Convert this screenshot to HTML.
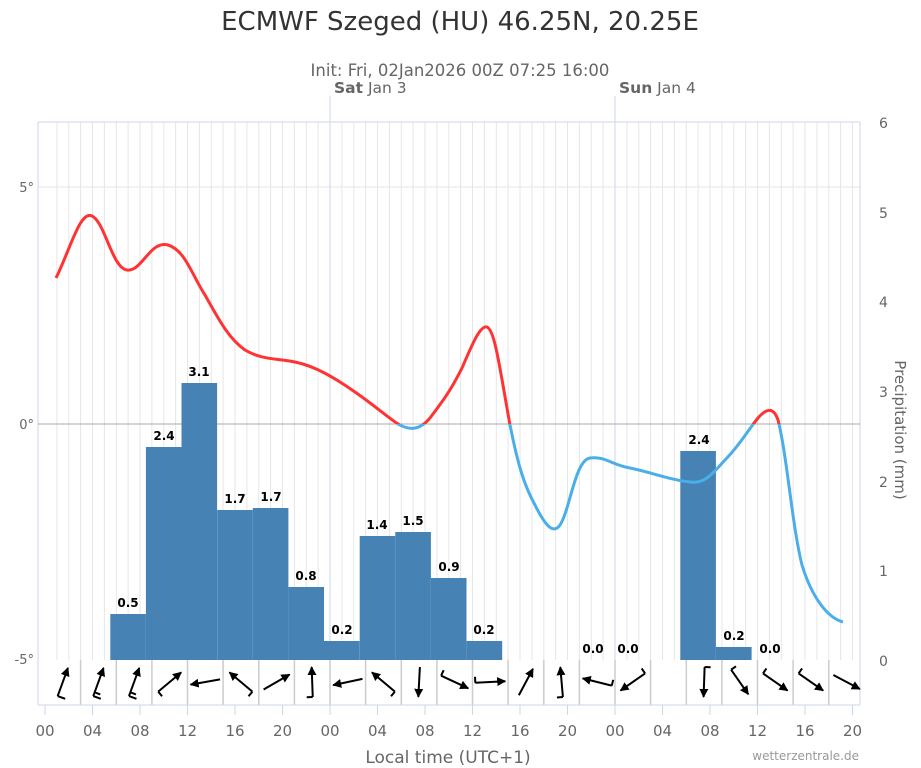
<!DOCTYPE html>
<html><head><meta charset="utf-8"><style>
body{margin:0;background:#fff;}
svg{display:block;font-family:"DejaVu Sans","Liberation Sans",sans-serif;}
</style></head><body>
<svg width="921" height="768" viewBox="0 0 921 768" xmlns="http://www.w3.org/2000/svg">
<defs>
<marker id="ah" viewBox="0 0 10 10" refX="9" refY="5" markerWidth="4.5" markerHeight="4.5" orient="auto"><path d="M0,0 L10,5 L0,10 z" fill="#000"/></marker>
<clipPath id="above"><rect x="0" y="0" width="921" height="424"/></clipPath>
<clipPath id="below"><rect x="0" y="424" width="921" height="400"/></clipPath>
</defs>
<text x="460" y="30" text-anchor="middle" font-size="26" fill="#333">ECMWF Szeged (HU) 46.25N, 20.25E</text>
<text x="460" y="76" text-anchor="middle" font-size="16.5" fill="#666">Init: Fri, 02Jan2026 00Z 07:25 16:00</text>
<g stroke="#e6e6e6" stroke-width="1">
<line x1="56.9" y1="122" x2="56.9" y2="660"/><line x1="68.8" y1="122" x2="68.8" y2="660"/><line x1="80.6" y1="122" x2="80.6" y2="660"/><line x1="92.5" y1="122" x2="92.5" y2="660"/><line x1="104.4" y1="122" x2="104.4" y2="660"/><line x1="116.3" y1="122" x2="116.3" y2="660"/><line x1="128.1" y1="122" x2="128.1" y2="660"/><line x1="140" y1="122" x2="140" y2="660"/><line x1="151.9" y1="122" x2="151.9" y2="660"/><line x1="163.8" y1="122" x2="163.8" y2="660"/><line x1="175.6" y1="122" x2="175.6" y2="660"/><line x1="187.5" y1="122" x2="187.5" y2="660"/><line x1="199.4" y1="122" x2="199.4" y2="660"/><line x1="211.3" y1="122" x2="211.3" y2="660"/><line x1="223.1" y1="122" x2="223.1" y2="660"/><line x1="235" y1="122" x2="235" y2="660"/><line x1="246.9" y1="122" x2="246.9" y2="660"/><line x1="258.8" y1="122" x2="258.8" y2="660"/><line x1="270.6" y1="122" x2="270.6" y2="660"/><line x1="282.5" y1="122" x2="282.5" y2="660"/><line x1="294.4" y1="122" x2="294.4" y2="660"/><line x1="306.3" y1="122" x2="306.3" y2="660"/><line x1="318.1" y1="122" x2="318.1" y2="660"/><line x1="341.9" y1="122" x2="341.9" y2="660"/><line x1="353.8" y1="122" x2="353.8" y2="660"/><line x1="365.6" y1="122" x2="365.6" y2="660"/><line x1="377.5" y1="122" x2="377.5" y2="660"/><line x1="389.4" y1="122" x2="389.4" y2="660"/><line x1="401.3" y1="122" x2="401.3" y2="660"/><line x1="413.1" y1="122" x2="413.1" y2="660"/><line x1="425" y1="122" x2="425" y2="660"/><line x1="436.9" y1="122" x2="436.9" y2="660"/><line x1="448.8" y1="122" x2="448.8" y2="660"/><line x1="460.6" y1="122" x2="460.6" y2="660"/><line x1="472.5" y1="122" x2="472.5" y2="660"/><line x1="484.4" y1="122" x2="484.4" y2="660"/><line x1="496.3" y1="122" x2="496.3" y2="660"/><line x1="508.1" y1="122" x2="508.1" y2="660"/><line x1="520" y1="122" x2="520" y2="660"/><line x1="531.9" y1="122" x2="531.9" y2="660"/><line x1="543.8" y1="122" x2="543.8" y2="660"/><line x1="555.6" y1="122" x2="555.6" y2="660"/><line x1="567.5" y1="122" x2="567.5" y2="660"/><line x1="579.4" y1="122" x2="579.4" y2="660"/><line x1="591.3" y1="122" x2="591.3" y2="660"/><line x1="603.1" y1="122" x2="603.1" y2="660"/><line x1="626.9" y1="122" x2="626.9" y2="660"/><line x1="638.8" y1="122" x2="638.8" y2="660"/><line x1="650.6" y1="122" x2="650.6" y2="660"/><line x1="662.5" y1="122" x2="662.5" y2="660"/><line x1="674.4" y1="122" x2="674.4" y2="660"/><line x1="686.3" y1="122" x2="686.3" y2="660"/><line x1="698.1" y1="122" x2="698.1" y2="660"/><line x1="710" y1="122" x2="710" y2="660"/><line x1="721.9" y1="122" x2="721.9" y2="660"/><line x1="733.8" y1="122" x2="733.8" y2="660"/><line x1="745.6" y1="122" x2="745.6" y2="660"/><line x1="757.5" y1="122" x2="757.5" y2="660"/><line x1="769.4" y1="122" x2="769.4" y2="660"/><line x1="781.3" y1="122" x2="781.3" y2="660"/><line x1="793.1" y1="122" x2="793.1" y2="660"/><line x1="805" y1="122" x2="805" y2="660"/><line x1="816.9" y1="122" x2="816.9" y2="660"/><line x1="828.8" y1="122" x2="828.8" y2="660"/><line x1="840.6" y1="122" x2="840.6" y2="660"/><line x1="852.5" y1="122" x2="852.5" y2="660"/>
<line x1="38" y1="187" x2="860" y2="187"/>
</g>
<line x1="38" y1="122" x2="38" y2="705" stroke="#ccd6eb"/>
<line x1="860" y1="122" x2="860" y2="705" stroke="#ccd6eb"/>
<line x1="38" y1="122" x2="860" y2="122" stroke="#ccd6eb"/>
<line x1="330" y1="96" x2="330" y2="660" stroke="#ccd6eb"/>
<line x1="615" y1="96" x2="615" y2="660" stroke="#ccd6eb"/>
<text x="334" y="93" font-size="15.5" fill="#666"><tspan font-weight="bold">Sat</tspan> Jan 3</text>
<text x="619" y="93" font-size="15.5" fill="#666"><tspan font-weight="bold">Sun</tspan> Jan 4</text>
<line x1="38" y1="424" x2="860" y2="424" stroke="#aaa"/>
<g fill="#4682b4">
<rect x="110.3" y="614" width="35.6" height="46"/>
<rect x="145.9" y="447" width="35.6" height="213"/>
<rect x="181.5" y="383" width="35.6" height="277"/>
<rect x="217.2" y="510" width="35.6" height="150"/>
<rect x="252.8" y="508" width="35.6" height="152"/>
<rect x="288.4" y="587" width="35.6" height="73"/>
<rect x="324" y="641" width="35.6" height="19"/>
<rect x="359.7" y="536" width="35.6" height="124"/>
<rect x="395.3" y="532" width="35.6" height="128"/>
<rect x="430.9" y="578" width="35.6" height="82"/>
<rect x="466.6" y="641" width="35.6" height="19"/>
<rect x="680.3" y="451" width="35.6" height="209"/>
<rect x="716" y="647" width="35.6" height="13"/>
</g>
<g font-size="12" font-weight="bold" text-anchor="middle" fill="#000">
<text x="128" y="607">0.5</text><text x="164" y="440">2.4</text><text x="199" y="376">3.1</text>
<text x="235" y="503">1.7</text><text x="271" y="501">1.7</text><text x="306" y="580">0.8</text>
<text x="342" y="634">0.2</text><text x="377" y="529">1.4</text><text x="413" y="525">1.5</text>
<text x="449" y="571">0.9</text><text x="484" y="634">0.2</text><text x="593" y="653">0.0</text>
<text x="628" y="653">0.0</text><text x="699" y="444">2.4</text><text x="734" y="640">0.2</text>
<text x="770" y="653">0.0</text>
</g>
<path id="tp" d="M56,278 C70,250 80,210 92,216 C105,222 112,268 127,270 C142,272 150,240 168,245 C185,250 192,275 205,295 C218,318 228,338 245,350 C262,360 275,358 295,362 C315,366 335,378 355,392 C375,406 385,415 398,424 C410,431 420,430 430,418 C442,402 450,392 462,368 C472,345 480,325 487,327 C495,330 500,370 510,425 C518,465 524,485 535,505 C545,525 553,535 560,525 C570,510 575,460 590,458 C605,456 612,465 630,468 C650,472 670,480 690,482 C705,484 712,474 725,460 C740,445 748,430 758,418 C765,410 773,405 778,420 C787,455 792,525 802,565 C812,598 828,618 843,622" fill="none" stroke-width="3"/>
<use href="#tp" stroke="#ff3333" clip-path="url(#above)"/>
<use href="#tp" stroke="#4aaee8" clip-path="url(#below)"/>
<g font-size="13" fill="#666" text-anchor="end">
<text x="34" y="192">5°</text><text x="34" y="429">0°</text><text x="34" y="664">-5°</text>
</g>
<g font-size="14" fill="#666" text-anchor="start">
<text x="879" y="128">6</text><text x="879" y="218">5</text><text x="879" y="307">4</text>
<text x="879" y="397">3</text><text x="879" y="487">2</text><text x="879" y="576">1</text><text x="879" y="666">0</text>
</g>
<text transform="translate(895,430) rotate(90)" text-anchor="middle" font-size="15" fill="#666">Precipitation (mm)</text>
<g stroke="#ccc" stroke-width="1.5">
<line x1="80.6" y1="660" x2="80.6" y2="705"/><line x1="116.3" y1="660" x2="116.3" y2="705"/><line x1="151.9" y1="660" x2="151.9" y2="705"/><line x1="187.5" y1="660" x2="187.5" y2="705"/><line x1="223.1" y1="660" x2="223.1" y2="705"/><line x1="258.8" y1="660" x2="258.8" y2="705"/><line x1="294.4" y1="660" x2="294.4" y2="705"/><line x1="330" y1="660" x2="330" y2="705"/><line x1="365.6" y1="660" x2="365.6" y2="705"/><line x1="401.3" y1="660" x2="401.3" y2="705"/><line x1="436.9" y1="660" x2="436.9" y2="705"/><line x1="472.5" y1="660" x2="472.5" y2="705"/><line x1="508.1" y1="660" x2="508.1" y2="705"/><line x1="543.8" y1="660" x2="543.8" y2="705"/><line x1="579.4" y1="660" x2="579.4" y2="705"/><line x1="615" y1="660" x2="615" y2="705"/><line x1="650.6" y1="660" x2="650.6" y2="705"/><line x1="686.3" y1="660" x2="686.3" y2="705"/><line x1="721.9" y1="660" x2="721.9" y2="705"/><line x1="757.5" y1="660" x2="757.5" y2="705"/><line x1="793.1" y1="660" x2="793.1" y2="705"/><line x1="828.8" y1="660" x2="828.8" y2="705"/>
</g>
<line x1="38" y1="705" x2="860" y2="705" stroke="#ccd6eb"/>
<g stroke="#000" stroke-width="2" fill="none">
<g transform="translate(62.8,682) rotate(-70)"><line x1="-15" y1="0" x2="15" y2="0" marker-end="url(#ah)"/><line x1="-15" y1="0" x2="-15" y2="8"/></g>
<g transform="translate(98.4,682) rotate(-70)"><line x1="-15" y1="0" x2="15" y2="0" marker-end="url(#ah)"/><line x1="-15" y1="0" x2="-15" y2="8"/><line x1="-11" y1="0" x2="-11" y2="6"/></g>
<g transform="translate(134.1,682) rotate(-70)"><line x1="-15" y1="0" x2="15" y2="0" marker-end="url(#ah)"/><line x1="-15" y1="0" x2="-15" y2="8"/><line x1="-11" y1="0" x2="-11" y2="6"/></g>
<g transform="translate(169.7,682) rotate(-40)"><line x1="-15" y1="0" x2="15" y2="0" marker-end="url(#ah)"/><line x1="-15" y1="0" x2="-15" y2="6"/></g>
<g transform="translate(205.3,682) rotate(170)"><line x1="-15" y1="0" x2="15" y2="0" marker-end="url(#ah)"/></g>
<g transform="translate(240.9,682) rotate(-140)"><line x1="-15" y1="0" x2="15" y2="0" marker-end="url(#ah)"/><line x1="-15" y1="0" x2="-15" y2="-6"/></g>
<g transform="translate(276.6,682) rotate(-30)"><line x1="-15" y1="0" x2="15" y2="0" marker-end="url(#ah)"/></g>
<g transform="translate(312.2,682) rotate(-92)"><line x1="-15" y1="0" x2="15" y2="0" marker-end="url(#ah)"/><line x1="-15" y1="0" x2="-15" y2="-6"/></g>
<g transform="translate(347.8,682) rotate(168)"><line x1="-15" y1="0" x2="15" y2="0" marker-end="url(#ah)"/></g>
<g transform="translate(383.4,682) rotate(-140)"><line x1="-15" y1="0" x2="15" y2="0" marker-end="url(#ah)"/><line x1="-15" y1="0" x2="-15" y2="-6"/></g>
<g transform="translate(419.1,682) rotate(93)"><line x1="-15" y1="0" x2="15" y2="0" marker-end="url(#ah)"/></g>
<g transform="translate(454.7,682) rotate(25)"><line x1="-15" y1="0" x2="15" y2="0" marker-end="url(#ah)"/><line x1="-15" y1="0" x2="-15" y2="-6"/></g>
<g transform="translate(490.3,682) rotate(-3)"><line x1="-15" y1="0" x2="15" y2="0" marker-end="url(#ah)"/><line x1="-15" y1="0" x2="-15" y2="-6"/></g>
<g transform="translate(525.9,682) rotate(-62)"><line x1="-15" y1="0" x2="15" y2="0" marker-end="url(#ah)"/></g>
<g transform="translate(561.6,682) rotate(-95)"><line x1="-15" y1="0" x2="15" y2="0" marker-end="url(#ah)"/><line x1="-15" y1="0" x2="-15" y2="-6"/></g>
<g transform="translate(597.2,682) rotate(-166)"><line x1="-15" y1="0" x2="15" y2="0" marker-end="url(#ah)"/><line x1="-15" y1="0" x2="-15" y2="6"/></g>
<g transform="translate(632.8,682) rotate(145)"><line x1="-15" y1="0" x2="15" y2="0" marker-end="url(#ah)"/><line x1="-15" y1="0" x2="-15" y2="6"/></g>
<g transform="translate(704.1,682) rotate(92)"><line x1="-15" y1="0" x2="15" y2="0" marker-end="url(#ah)"/><line x1="-15" y1="0" x2="-15" y2="-6"/></g>
<g transform="translate(739.7,682) rotate(55)"><line x1="-15" y1="0" x2="15" y2="0" marker-end="url(#ah)"/><line x1="-15" y1="0" x2="-15" y2="-6"/></g>
<g transform="translate(775.3,682) rotate(35)"><line x1="-15" y1="0" x2="15" y2="0" marker-end="url(#ah)"/><line x1="-15" y1="0" x2="-15" y2="-6"/></g>
<g transform="translate(810.9,682) rotate(35)"><line x1="-15" y1="0" x2="15" y2="0" marker-end="url(#ah)"/><line x1="-15" y1="0" x2="-15" y2="-6"/></g>
<g transform="translate(846.6,682) rotate(28)"><line x1="-15" y1="0" x2="15" y2="0" marker-end="url(#ah)"/></g>
</g>
<g stroke="#ccd6eb">
<line x1="45" y1="705" x2="45" y2="715"/><line x1="92.5" y1="705" x2="92.5" y2="715"/><line x1="140" y1="705" x2="140" y2="715"/><line x1="187.5" y1="705" x2="187.5" y2="715"/><line x1="235" y1="705" x2="235" y2="715"/><line x1="282.5" y1="705" x2="282.5" y2="715"/><line x1="330" y1="705" x2="330" y2="715"/><line x1="377.5" y1="705" x2="377.5" y2="715"/><line x1="425" y1="705" x2="425" y2="715"/><line x1="472.5" y1="705" x2="472.5" y2="715"/><line x1="520" y1="705" x2="520" y2="715"/><line x1="567.5" y1="705" x2="567.5" y2="715"/><line x1="615" y1="705" x2="615" y2="715"/><line x1="662.5" y1="705" x2="662.5" y2="715"/><line x1="710" y1="705" x2="710" y2="715"/><line x1="757.5" y1="705" x2="757.5" y2="715"/><line x1="805" y1="705" x2="805" y2="715"/><line x1="852.5" y1="705" x2="852.5" y2="715"/>
</g>
<g font-size="15" fill="#666" text-anchor="middle">
<text x="45" y="736">00</text><text x="92.5" y="736">04</text><text x="140" y="736">08</text><text x="187.5" y="736">12</text><text x="235" y="736">16</text><text x="282.5" y="736">20</text><text x="330" y="736">00</text><text x="377.5" y="736">04</text><text x="425" y="736">08</text><text x="472.5" y="736">12</text><text x="520" y="736">16</text><text x="567.5" y="736">20</text><text x="615" y="736">00</text><text x="662.5" y="736">04</text><text x="710" y="736">08</text><text x="757.5" y="736">12</text><text x="805" y="736">16</text><text x="852.5" y="736">20</text>
</g>
<text x="448" y="763" text-anchor="middle" font-size="17" fill="#666">Local time (UTC+1)</text>
<text x="859" y="760" text-anchor="end" font-size="12" fill="#999">wetterzentrale.de</text>
</svg>
</body></html>
